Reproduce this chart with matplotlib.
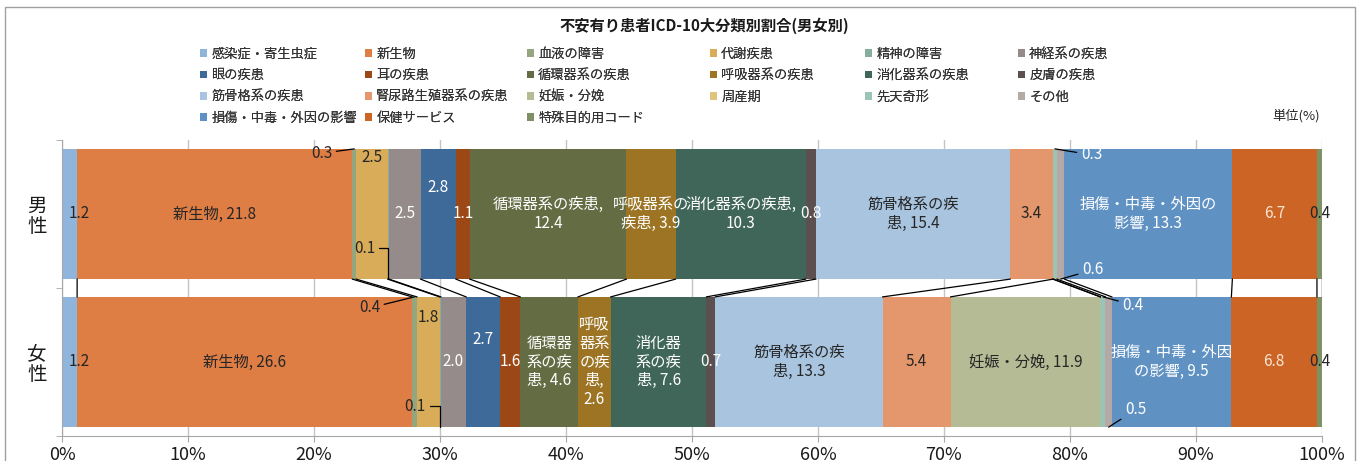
import numpy as np
import matplotlib.pyplot as plt
from matplotlib.patches import Rectangle

plt.rcParams['font.family'] = ['Noto Sans CJK JP', 'DejaVu Sans']

# data (%)
categories = ['感染症・寄生虫症', '新生物', '血液の障害', '代謝疾患', '精神の障害', '神経系の疾患',
              '眼の疾患', '耳の疾患', '循環器系の疾患', '呼吸器系の疾患', '消化器系の疾患', '皮膚の疾患',
              '筋骨格系の疾患', '腎尿路生殖器系の疾患', '妊娠・分娩', '周産期', '先天奇形', 'その他',
              '損傷・中毒・外因の影響', '保健サービス', '特殊目的用コード']
male = [1.2, 21.8, 0.3, 2.5, 0.1, 2.5, 2.8, 1.1, 12.4, 3.9, 10.3, 0.8,
        15.4, 3.4, 0.0, 0.0, 0.3, 0.6, 13.3, 6.7, 0.4]
female = [1.2, 26.6, 0.4, 1.8, 0.1, 2.0, 2.7, 1.6, 4.6, 2.6, 7.6, 0.7,
          13.3, 5.4, 11.9, 0.0, 0.4, 0.5, 9.5, 6.8, 0.4]
groups = ['男\n性', '女\n性']

# label texts that also carry the category name
male_names = {1: '新生物, {}', 8: '循環器系の疾患,\n{}', 9: '呼吸器系の\n疾患, {}',
              10: '消化器系の疾患,\n{}', 12: '筋骨格系の疾\n患, {}', 18: '損傷・中毒・外因の\n影響, {}'}
female_names = {1: '新生物, {}', 8: '循環器\n系の疾\n患, {}', 9: '呼吸\n器系\nの疾\n患,\n{}',
                10: '消化器\n系の疾\n患, {}', 12: '筋骨格系の疾\n患, {}', 14: '妊娠・分娩, {}',
                18: '損傷・中毒・外因\nの影響, {}'}

colors = ['#8FB5DC', '#DE7D44', '#94A680', '#D8AC58', '#86AE9E', '#958B8B',
          '#3E6A99', '#9C4716', '#646C44', '#9C7424', '#3F6658', '#5B4F50',
          '#A8C4DF', '#E4976C', '#B5BC95', '#E0C37D', '#9DC3B4', '#B5A9A8',
          '#5F92C3', '#CC6426', '#7E9164']
dark_text = {0, 1, 2, 3, 4, 12, 13, 14, 15, 20}

W, H = 1367, 461
fig = plt.figure(figsize=(W / 100, H / 100), dpi=100)
ax = fig.add_axes([62 / W, 1 - 436 / H, 1260 / W, 296 / H])

m = np.array(male) / sum(male) * 100
f = np.array(female) / sum(female) * 100
m_left = np.concatenate([[0], np.cumsum(m)[:-1]])
f_left = np.concatenate([[0], np.cumsum(f)[:-1]])
bh = 0.88

bars = []
for i, cat in enumerate(categories):
    b = ax.barh([0, 1], [m[i], f[i]], left=[m_left[i], f_left[i]], height=bh,
                color=colors[i], label=cat, zorder=2)
    bars.append(b)

# series lines between the two bars
for i in range(len(categories)):
    ax.plot([m_left[i] + m[i], f_left[i] + f[i]], [bh / 2, 1 - bh / 2],
            color='black', lw=0.9, zorder=3)

# labels that are moved off centre: (row, index) -> (x, y, leader target, connection)
moved = {
    (0, 2): (20.6, -0.41, (m_left[2] + m[2] / 2, -bh / 2), 'arc3'),
    (0, 3): (m_left[3] + m[3] / 2, -0.385, None, None),
    (0, 4): (24.0, 0.23, (m_left[4] + m[4] / 2, bh / 2), 'angle,angleA=0,angleB=90,rad=0'),
    (0, 6): (m_left[6] + m[6] / 2, -0.176, None, None),
    (0, 16): (81.7, -0.40, (m_left[16] + m[16] / 2, -bh / 2), 'arc3'),
    (0, 17): (81.8, 0.378, (m_left[17] + m[17] / 2, bh / 2), 'arc3'),
    (1, 2): (24.4, 0.635, (f_left[2] + f[2] / 2, 1 - bh / 2), 'arc3'),
    (1, 3): (f_left[3] + f[3] / 2, 0.70, None, None),
    (1, 4): (28.0, 1.30, (f_left[4] + f[4] / 2, 1 + bh / 2), 'angle,angleA=0,angleB=90,rad=0'),
    (1, 6): (f_left[6] + f[6] / 2, 0.851, None, None),
    (1, 16): (85.0, 0.615, (f_left[16] + f[16] / 2, 1 - bh / 2), 'arc3'),
    (1, 17): (85.2, 1.324, (f_left[17] + f[17] / 2, 1 + bh / 2), 'arc3'),
}

for row, (vals, pct, left, names) in enumerate([(male, m, m_left, male_names),
                                                 (female, f, f_left, female_names)]):
    for i, v in enumerate(vals):
        if v == 0:
            continue
        txt = names.get(i, '{}').format(v)
        col = '#262626' if i in dark_text else 'white'
        if i == 19:
            col = '#FAE6D2'
        if i in (16, 17):
            col = 'white'
        x, y = left[i] + pct[i] / 2, row
        if i == 0:
            x = 1.4
        if (row, i) in moved:
            x, y, target, conn = moved[(row, i)]
            if target is not None:
                ax.annotate(txt, xy=target, xytext=(x, y), ha='center', va='center',
                            fontsize=11, color=col, zorder=4,
                            arrowprops=dict(arrowstyle='-', color='black', lw=0.9,
                                            shrinkA=1, shrinkB=0, connectionstyle=conn))
                continue
        ax.text(x, y, txt, ha='center', va='center', fontsize=11, color=col,
                linespacing=1.15, zorder=4)

ax.set_xlim(0, 100)
ax.set_ylim(1.5, -0.5)
ax.set_xticks(np.arange(0, 101, 10))
ax.set_xticklabels([f'{t}%' for t in range(0, 101, 10)], fontsize=13, color='#1a1a1a')
ax.set_yticks([0, 1])
ax.set_yticklabels(groups, fontsize=14, linespacing=0.95, color='#1a1a1a')
ax.set_yticks([-0.5, 0.5, 1.5], minor=True)
ax.tick_params(axis='y', which='major', length=0, pad=11)
ax.tick_params(axis='y', which='minor', length=4, color='#A6A6A6')
ax.tick_params(axis='x', length=4, color='#A6A6A6', pad=3)
ax.grid(axis='x', color='#C4C4C4', lw=1, zorder=0)
ax.set_axisbelow(True)
for s in ['top', 'right']:
    ax.spines[s].set_visible(False)
ax.spines['left'].set_color('#A6A6A6')
ax.spines['bottom'].set_color('#A6A6A6')

# legend, one box per column so the columns sit like the original
col_x = [200, 365, 527, 710, 865, 1018]
for c in range(6):
    idx = [k for k in range(c, len(categories), 6)]
    leg = fig.legend([bars[k] for k in idx], [categories[k] for k in idx],
                     loc='upper left', bbox_to_anchor=(col_x[c] / W, 1 - 48 / H),
                     frameon=False, fontsize=9.5, handlelength=0.55, handleheight=0.55,
                     handletextpad=0.3, labelspacing=0.62, borderpad=0, borderaxespad=0,
                     labelcolor='#333333')
    fig.add_artist(leg)

fig.text(704 / W, 1 - 26 / H, '不安有り患者ICD-10大分類別割合(男女別)', ha='center', va='center',
         fontsize=11, fontweight='bold', color='#1a1a1a')
fig.text(1320 / W, 1 - 116 / H, '単位(%)', ha='right', va='center', fontsize=9.5, color='#262626')

fig.add_artist(Rectangle((5 / W, -0.1), 1350 / W, 1.1 - 7 / H, transform=fig.transFigure,
                         fill=False, edgecolor='#A0A0A0', lw=1))

fig.savefig('out.png', dpi=100)
